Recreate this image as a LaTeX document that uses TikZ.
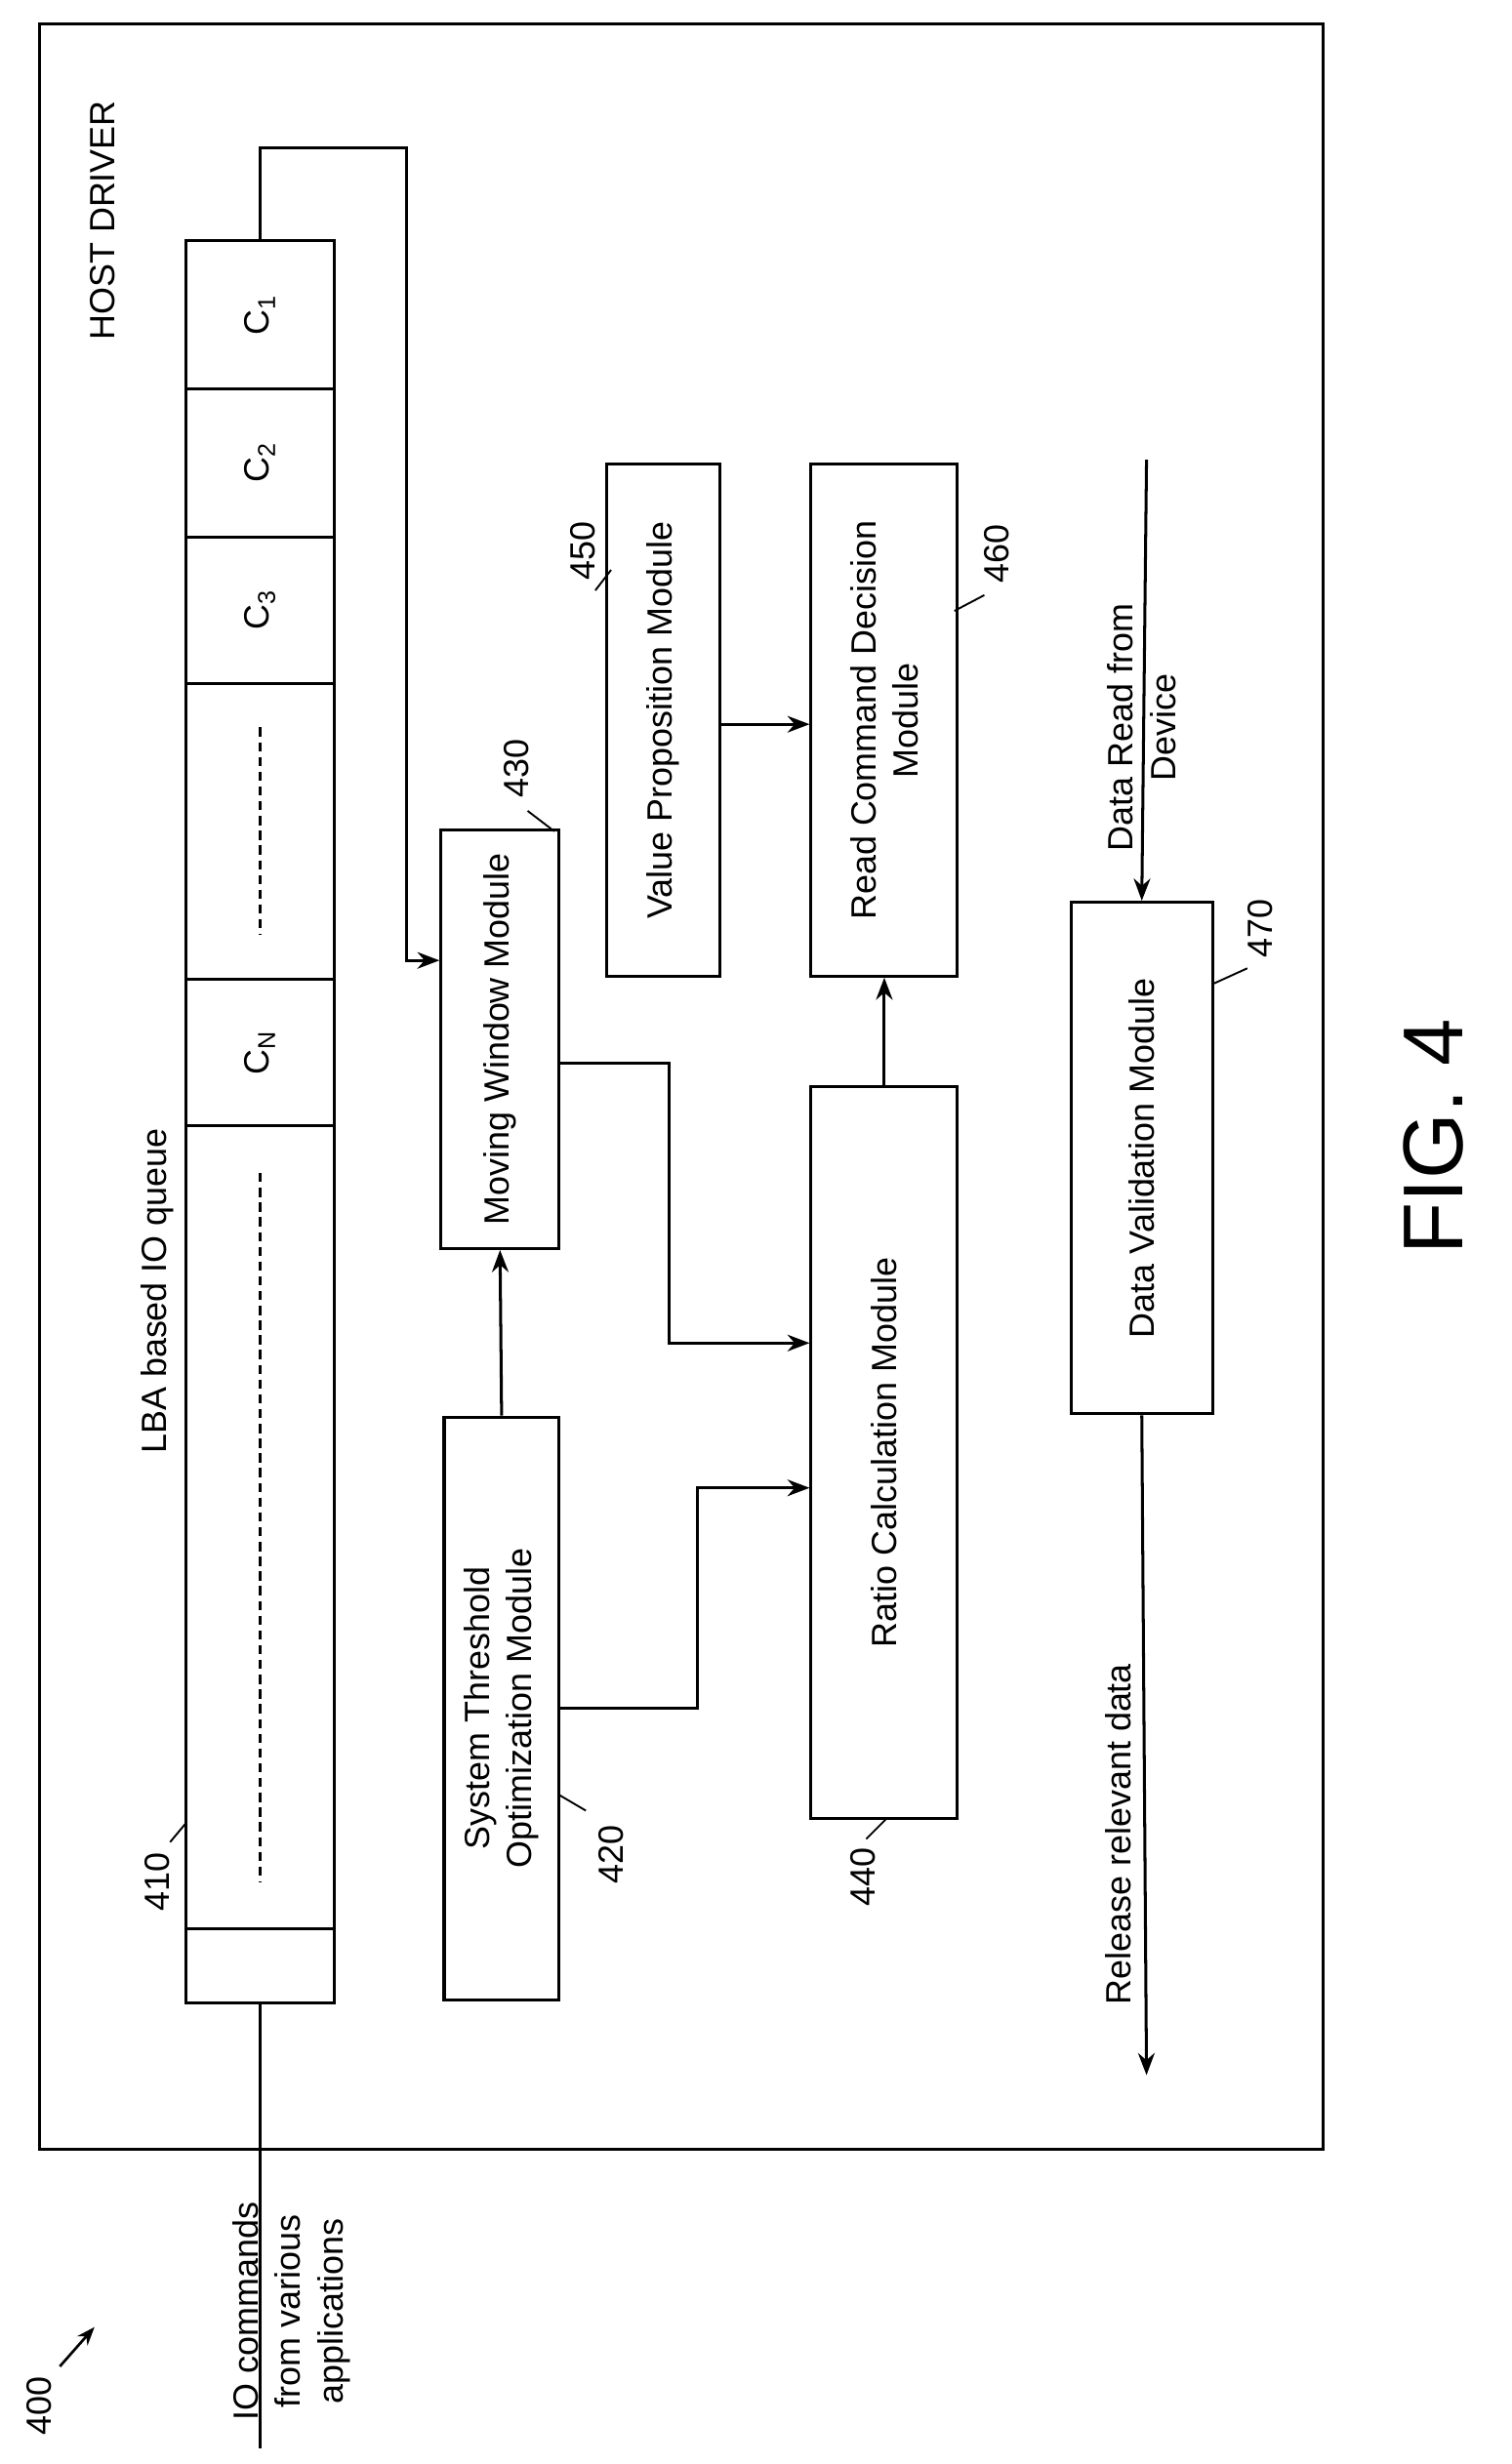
\documentclass[tikz,border=0pt]{standalone}
\usepackage{fontspec}
\setmainfont{Liberation Sans}
\usetikzlibrary{fit,arrows.meta}
\tikzset{
  box/.style={draw, line width=1.6pt, inner sep=0pt},
  txt/.style={rotate=90, align=center, font=\fontsize{19}{23}\selectfont},
  conn/.style={line width=1.6pt, -{Stealth[length=12pt,width=9pt]}},
  lead/.style={line width=1pt}
}
\begin{document}
\begin{tikzpicture}[x=0.03cm, y=-0.03cm]
  \useasboundingbox (0,0) rectangle (960,1565);

  % host driver frame
  \node[box, fit={(25,15) (840,1365)}] (host) {};
  \node[txt] (hostlbl) at (65,140) {HOST DRIVER};

  % queue cells
  \node[box, fit={(118,153) (212,247)}, label={[txt]center:C\textsubscript{1}}] (c1) {};
  \node[box, fit={(118,247) (212,341)}, label={[txt]center:C\textsubscript{2}}] (c2) {};
  \node[box, fit={(118,341) (212,434)}, label={[txt]center:C\textsubscript{3}}] (c3) {};
  \node[box, fit={(118,434) (212,622)}] (dots1) {};
  \node[box, fit={(118,622) (212,715)}, label={[txt]center:C\textsubscript{N}}] (cn) {};
  \node[box, fit={(118,715) (212,1225)}] (dots2) {};
  \node[box, fit={(118,1225) (212,1272)}] (clast) {};
  \draw[line width=1.4pt, dash pattern=on 5pt off 3pt] (165,462) -- (165,594);
  \draw[line width=1.4pt, dash pattern=on 5pt off 3pt] (165,745) -- (165,1195);
  \node[txt] (qlbl) at (100,820) {LBA based IO queue};
  \node[txt] (n410) at (100,1195) {410};
  \draw[lead] (108,1170) -- (118,1158);

  % modules
  \node[box, fit={(280,527) (355,793)}, label={[txt]center:Moving Window Module}] (mwm) {};
  \node[box, fit={(282,900) (355,1270)}, label={[txt]center:System Threshold\\Optimization Module}] (stom) {};
  \node[box, fit={(515,690) (608,1155)}, label={[txt]center:Ratio Calculation Module}] (rcm) {};
  \node[box, fit={(385,295) (457,620)}, label={[txt]center:Value Proposition Module}] (vpm) {};
  \node[box, fit={(515,295) (608,620)}, label={[txt]center:Read Command Decision\\Module}] (rcdm) {};
  \node[box, fit={(680,573) (770,898)}, label={[txt]center:Data Validation Module}] (dvm) {};

  % reference numerals
  \node[txt] (n430) at (328,488) {430};
  \draw[lead] (335,515) -- (352,528);
  \node[txt] (n420) at (388,1178) {420};
  \draw[lead] (372,1150) -- (355,1140);
  \node[txt] (n440) at (548,1192) {440};
  \draw[lead] (550,1168) -- (563,1155);
  \node[txt] (n450) at (370,350) {450};
  \draw[lead] (378,375) -- (388,362);
  \node[txt] (n460) at (633,352) {460};
  \draw[lead] (625,378) -- (606,388);
  \node[txt] (n470) at (800,590) {470};
  \draw[lead] (792,615) -- (770,625);

  % connectors
  \draw[conn] (c1.north) -- ++(0,-58) -| (258,610) -- (mwm.west |- 0,610);
  \draw[conn] (stom.north) -- (mwm.south);
  \draw[conn] (stom.east |- 0,1085) -| (443,945) -- (rcm.west |- 0,945);
  \draw[conn] (mwm.east |- 0,675) -| (425,853) -- (rcm.west |- 0,853);
  \draw[conn] (rcm.north) -- (rcdm.south);
  \draw[conn] (vpm.east |- 0,460) -- (rcdm.west |- 0,460);

  % inputs and outputs
  \coordinate (devin) at (728,292);
  \coordinate (relout) at (728,1318);
  \coordinate (ioin) at (165,1555);
  \draw[conn] (devin) -- (dvm.north);
  \draw[conn] (dvm.south) -- (relout);
  \draw[line width=1.6pt] (ioin) -- (clast.south);
  \node[txt] (devlbl) at (725,462) {Data Read from\\Device};
  \node[txt] (rellbl) at (710,1165) {Release relevant data};
  \node[txt] (iolbl) at (185,1468) {IO commands\\from various\\applications};

  % figure number
  \node[txt] (n400) at (25,1528) {400};
  \coordinate (arr400) at (60,1478);
  \draw[line width=1.4pt, -{Stealth[length=10pt]}] (38,1503) -- (arr400);
  \node[rotate=90, font=\fontsize{46}{50}\selectfont] (fig) at (910,722) {FIG. 4};
\end{tikzpicture}
\end{document}
